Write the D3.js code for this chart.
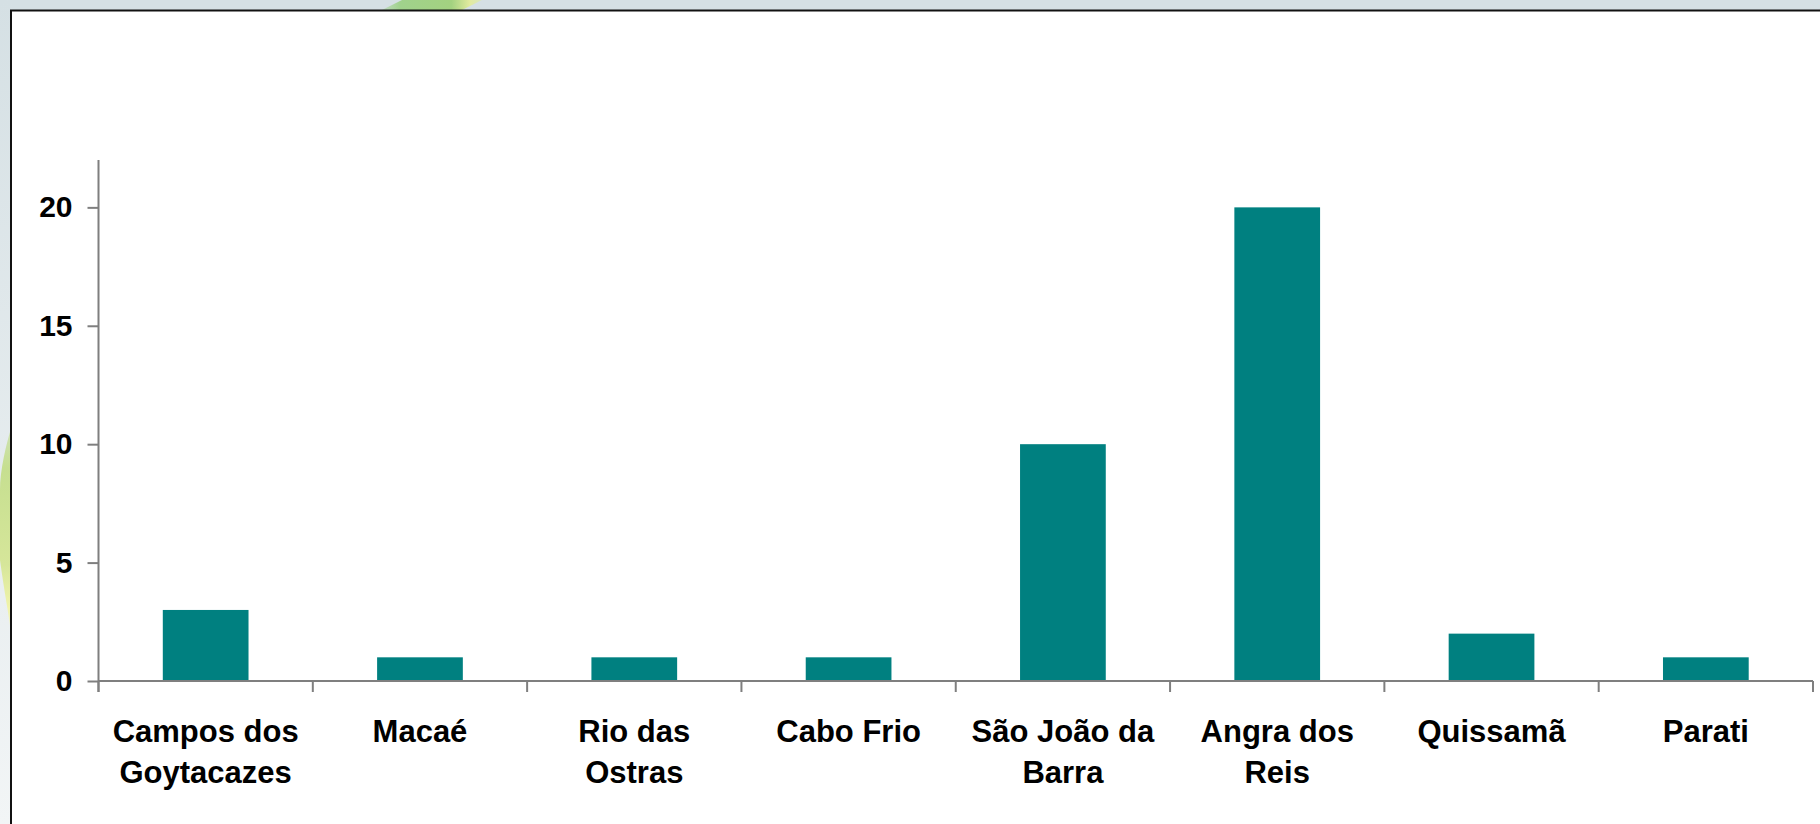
<!DOCTYPE html>
<html>
<head>
<meta charset="utf-8">
<script src="https://cdn.jsdelivr.net/npm/d3@7"></script>
<style>
  html, body { margin: 0; padding: 0; background: #d5e0e4; }
  svg { display: block; }
  text { font-family: "Liberation Sans", Arial, sans-serif; font-weight: bold; fill: #000; }
</style>
</head>
<body>
<script>
// Municipalities (x categories) and counts per municipality
const categories = [
  ["Campos dos", "Goytacazes"],
  ["Macaé"],
  ["Rio das", "Ostras"],
  ["Cabo Frio"],
  ["São João da", "Barra"],
  ["Angra dos", "Reis"],
  ["Quissamã"],
  ["Parati"]
];
const values = [3, 1, 1, 1, 10, 20, 2, 1];
const yTicks = [0, 5, 10, 15, 20];
const yMax = 22;

const W = 1820, H = 824;
const svg = d3.select("body").append("svg").attr("width", W).attr("height", H);

// Page backdrop with soft green ribbons
const defs = svg.append("defs");
const g1 = defs.append("linearGradient").attr("id", "ribbonTop").attr("x1", 0).attr("x2", 1);
g1.append("stop").attr("offset", "0%").attr("stop-color", "#c3dcc8");
g1.append("stop").attr("offset", "20%").attr("stop-color", "#a0d28c");
g1.append("stop").attr("offset", "70%").attr("stop-color", "#a3d280");
g1.append("stop").attr("offset", "88%").attr("stop-color", "#e2eb9e");
g1.append("stop").attr("offset", "100%").attr("stop-color", "#d9e6c0");
const g2 = defs.append("linearGradient").attr("id", "ribbonLeft").attr("x1", 0).attr("x2", 0).attr("y1", 0).attr("y2", 1);
g2.append("stop").attr("offset", "0%").attr("stop-color", "#cfe3b8");
g2.append("stop").attr("offset", "20%").attr("stop-color", "#c6df90");
g2.append("stop").attr("offset", "65%").attr("stop-color", "#d6e69a");
g2.append("stop").attr("offset", "85%").attr("stop-color", "#f1f4aa");
g2.append("stop").attr("offset", "100%").attr("stop-color", "#f2f4d8");
const g3 = defs.append("linearGradient").attr("id", "sideFade").attr("x1", 0).attr("x2", 0).attr("y1", 0).attr("y2", 1);
g3.append("stop").attr("offset", "0%").attr("stop-color", "#d5e0e4");
g3.append("stop").attr("offset", "100%").attr("stop-color", "#f2f5f6");

svg.append("rect").attr("width", W).attr("height", H).attr("fill", "#d5e0e4");
svg.append("rect").attr("x", 0).attr("y", 0).attr("width", 12).attr("height", H).attr("fill", "url(#sideFade)");
svg.append("path").attr("d", "M402,0 L482,0 L460,11 L380,11 Z").attr("fill", "url(#ribbonTop)");
svg.append("path")
  .attr("d", "M12,425 C6,445 0,470 0,490 L0,560 C4,590 9,615 12,640 Z")
  .attr("fill", "url(#ribbonLeft)");

// White chart panel with dark top/left edge
const panel = { x: 11, y: 10.5 };
svg.append("rect").attr("x", panel.x).attr("y", panel.y)
  .attr("width", W - panel.x).attr("height", H - panel.y).attr("fill", "#ffffff");
svg.append("path").attr("d", `M${panel.x},${H} V${panel.y} H${W}`)
  .attr("fill", "none").attr("stroke", "#111").attr("stroke-width", 2);

// Plot area
const plot = { left: 98.5, right: 1813, top: 160, bottom: 681 };

const x = d3.scaleBand()
  .domain(d3.range(categories.length))
  .range([plot.left, plot.right])
  .paddingInner(0.6)
  .paddingOuter(0.3);

const y = d3.scaleLinear().domain([0, yMax]).range([plot.bottom, plot.top]);

// Bars
svg.append("g").selectAll("rect")
  .data(values)
  .join("rect")
  .attr("x", (d, i) => x(i))
  .attr("y", d => y(d))
  .attr("width", x.bandwidth())
  .attr("height", d => y(0) - y(d))
  .attr("fill", "#008080");

const axisColor = "#7f7f7f";

// Y axis
const yAxis = svg.append("g")
  .attr("transform", `translate(${plot.left},0)`)
  .call(d3.axisLeft(y).tickValues(yTicks).tickSize(11).tickPadding(15).tickFormat(d3.format("d")));
yAxis.select(".domain").attr("d", `M0,${plot.top}V${plot.bottom + 11}`).attr("stroke", axisColor).attr("stroke-width", 2);
yAxis.selectAll(".tick line").attr("stroke", axisColor).attr("stroke-width", 2);
yAxis.selectAll(".tick text")
  .style("font-family", "'Liberation Sans', Arial, sans-serif")
  .style("font-weight", "bold")
  .style("font-size", "30px")
  .attr("fill", "#000");

// X axis: line with ticks at category boundaries
const boundaries = d3.range(categories.length + 1).map(i => plot.left + i * (plot.right - plot.left) / categories.length);
const xAxis = svg.append("g");
xAxis.append("line")
  .attr("x1", plot.left).attr("x2", plot.right)
  .attr("y1", y(0)).attr("y2", y(0))
  .attr("stroke", axisColor).attr("stroke-width", 2);
xAxis.selectAll("line.tick")
  .data(boundaries)
  .join("line")
  .attr("class", "tick")
  .attr("x1", d => d).attr("x2", d => d)
  .attr("y1", y(0)).attr("y2", y(0) + 11)
  .attr("stroke", axisColor).attr("stroke-width", 2);

// Category labels (wrapped on two lines where needed)
const labels = xAxis.selectAll("text.cat")
  .data(categories)
  .join("text")
  .attr("class", "cat")
  .attr("text-anchor", "middle")
  .attr("transform", (d, i) => `translate(${x(i) + x.bandwidth() / 2},${y(0) + 61})`)
  .style("font-size", "31px");
labels.selectAll("tspan")
  .data(d => d)
  .join("tspan")
  .attr("x", 0)
  .attr("dy", (d, j) => j === 0 ? 0 : 41)
  .text(d => d);
</script>
</body>
</html>
